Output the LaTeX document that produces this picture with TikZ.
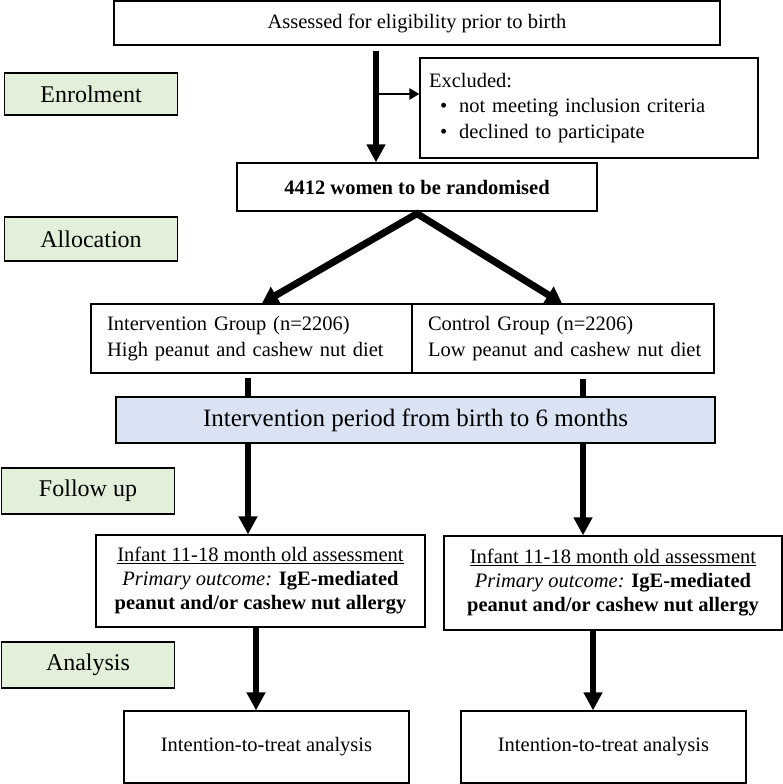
\documentclass[tikz,border=0pt]{standalone}
\usepackage{fontspec}
\setmainfont{Liberation Serif}
\usetikzlibrary{arrows.meta}
\definecolor{lgreen}{HTML}{E2F0D9}
\definecolor{lblue}{HTML}{DAE3F3}
\begin{document}
\begin{tikzpicture}[x=1pt,y=-1pt,
  box/.style={draw, line width=1.3pt, rectangle, inner sep=0pt, align=center,
              font=\fontsize{20.5}{24}\selectfont},
  stage/.style={box, line width=1.6pt, fill=lgreen, minimum width=173pt, font=\fontsize{24}{28}\selectfont},
  bigarrow/.style={line width=5.5pt, -{Triangle[width=18pt,length=18pt]}},
  sidearrow/.style={line width=2.5pt, -{Triangle[width=11pt,length=10pt]}},
  stub/.style={line width=5.5pt},
  diag/.style={line width=7pt, line join=miter,
               {Triangle[width=19pt,length=16pt]}-{Triangle[width=19pt,length=16pt]}}]
\useasboundingbox (0,0) rectangle (783,784);

% boxes
\node[box, minimum width=606pt, minimum height=44pt] (top) at (417,23) {Assessed for eligibility prior to birth};
\node[box, minimum width=338pt, minimum height=100pt, text width=320pt, inner xsep=9pt, align=left,
      font=\fontsize{20.5}{25.5}\selectfont] (excl) at (589,108)
  {Excluded:\\
   \hspace*{11pt}\textbullet\hspace{12pt}not meeting inclusion criteria\\
   \hspace*{11pt}\textbullet\hspace{12pt}declined to participate};
\node[box, minimum width=360pt, minimum height=48pt, font=\fontsize{20.5}{24}\selectfont\bfseries] (rand) at (417,187) {4412 women to be randomised};

\node[stage, minimum height=42pt] (enrol) at (91,94) {Enrolment};
\node[stage, minimum height=44pt] (alloc) at (91,239) {Allocation};
\node[stage, minimum height=46pt] (follow) at (88,491) {Follow up};
\node[stage, minimum height=46pt] (anal) at (88,665) {Analysis};

\node[box, minimum width=321pt, minimum height=69pt, text width=289pt, inner xsep=16pt, align=left,
      font=\fontsize{20.5}{26}\selectfont] (gl) at (251.5,338.5)
  {\mbox{Intervention Group (n=2206)}\\\mbox{High peanut and cashew nut diet}};
\node[box, minimum width=302pt, minimum height=69pt, text width=270pt, inner xsep=16pt, align=left,
      font=\fontsize{20.5}{26}\selectfont] (gr) at (563,338.5)
  {\mbox{Control Group (n=2206)}\\\mbox{Low peanut and cashew nut diet}};

\node[box, fill=lblue, minimum width=599pt, minimum height=46pt, font=\fontsize{25}{30}\selectfont] (blue) at (415.5,420)
  {Intervention period from birth to 6 months};

\node[box, minimum width=329pt, minimum height=92pt] (infl) at (260.5,581)
  {\underline{Infant 11-18 month old assessment}\\
   \textit{Primary outcome:} \textbf{IgE-mediated}\\
   \textbf{peanut and/or cashew nut allergy}};
\node[box, minimum width=338pt, minimum height=94pt] (infr) at (613,583)
  {\underline{Infant 11-18 month old assessment}\\
   \textit{Primary outcome:} \textbf{IgE-mediated}\\
   \textbf{peanut and/or cashew nut allergy}};

\node[box, minimum width=285pt, minimum height=72pt] (ittl) at (266.5,747) {Intention-to-treat analysis};
\node[box, minimum width=285pt, minimum height=72pt] (ittr) at (603.5,747) {Intention-to-treat analysis};

% connectors
\coordinate (cA) at (376,0);
\coordinate (sa) at (376,94);
\coordinate (dl) at (262,0);
\coordinate (dr) at (562,0);
\coordinate (xl) at (248,0);
\coordinate (xr) at (583,0);
\coordinate (al) at (256,0);
\coordinate (ar) at (593,0);

\draw[bigarrow, shorten <=5pt] (top.south -| cA) -- (rand.north -| cA);
\draw[sidearrow] (sa) -- (sa -| excl.west);
\draw[diag] (gl.north -| dl) -- ([yshift=-2pt]rand.south) -- (gr.north -| dr);
\draw[stub, shorten <=4pt] (gl.south -| xl) -- (blue.north -| xl);
\draw[stub, shorten <=5pt] (gr.south -| xr) -- (blue.north -| xr);
\draw[bigarrow] (blue.south -| xl) -- (infl.north -| xl);
\draw[bigarrow] (blue.south -| xr) -- (infr.north -| xr);
\draw[bigarrow] (infl.south -| al) -- (ittl.north -| al);
\draw[bigarrow] (infr.south -| ar) -- (ittr.north -| ar);
\end{tikzpicture}
\end{document}
